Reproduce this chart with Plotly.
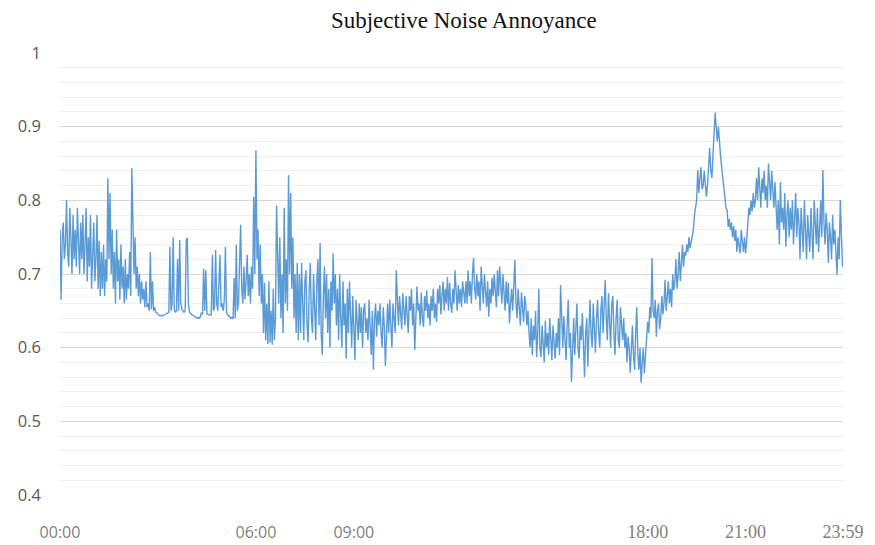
import plotly.graph_objects as go

# Sampling step of the recorded series (minutes between samples)
STEP_MIN = 2

# Subjective noise annoyance values (one every 2 minutes from 00:00)
annoyance = [
    # 00:00 - 02:00
    0.76, 0.665, 0.75, 0.77, 0.72, 0.74, 0.80, 0.73, 0.71, 0.79, 0.75, 0.70, 0.78, 0.72, 0.76, 0.71, 0.79, 0.73, 0.70, 0.77,
    0.72, 0.78, 0.70, 0.74, 0.79, 0.69, 0.75, 0.71, 0.78, 0.68, 0.73, 0.77, 0.69, 0.72, 0.78, 0.68, 0.745, 0.67, 0.73, 0.68,
    0.74, 0.67, 0.72, 0.69, 0.83, 0.72, 0.81, 0.70, 0.76, 0.68, 0.73, 0.66, 0.76, 0.69, 0.72, 0.665, 0.74, 0.68, 0.71, 0.66,
    # 02:00 - 04:00
    0.72, 0.665, 0.70, 0.68, 0.73, 0.67, 0.844, 0.78, 0.70, 0.75, 0.68, 0.71, 0.67, 0.70, 0.66, 0.69, 0.665, 0.68, 0.655, 0.69,
    0.655, 0.66, 0.65, 0.73, 0.652, 0.69, 0.65, 0.655, 0.648, 0.647, 0.645, 0.644, 0.643, 0.644, 0.643, 0.644, 0.645, 0.645, 0.646, 0.647,
    0.648, 0.737, 0.65, 0.66, 0.75, 0.652, 0.648, 0.65, 0.72, 0.65, 0.746, 0.66, 0.652, 0.65, 0.648, 0.65, 0.746, 0.749, 0.66, 0.648,
    # 04:00 - 06:00
    0.646, 0.645, 0.644, 0.643, 0.642, 0.641, 0.64, 0.641, 0.64, 0.642, 0.648, 0.645, 0.707, 0.65, 0.705, 0.646, 0.645, 0.645, 0.644, 0.645,
    0.726, 0.65, 0.655, 0.733, 0.66, 0.65, 0.68, 0.726, 0.655, 0.66, 0.65, 0.665, 0.737, 0.648, 0.645, 0.643, 0.642, 0.64, 0.641, 0.639,
    0.695, 0.64, 0.74, 0.65, 0.66, 0.70, 0.767, 0.68, 0.66, 0.71, 0.665, 0.69, 0.726, 0.67, 0.70, 0.66, 0.71, 0.68, 0.805, 0.70,
    # 06:00 - 08:00
    0.868, 0.72, 0.76, 0.67, 0.74, 0.66, 0.70, 0.62, 0.688, 0.61, 0.66, 0.605, 0.69, 0.607, 0.65, 0.604, 0.68, 0.61, 0.64, 0.793,
    0.70, 0.66, 0.75, 0.64, 0.70, 0.62, 0.79, 0.66, 0.72, 0.65, 0.834, 0.70, 0.81, 0.68, 0.75, 0.64, 0.70, 0.62, 0.715, 0.61,
    0.70, 0.62, 0.715, 0.65, 0.61, 0.69, 0.705, 0.63, 0.607, 0.68, 0.715, 0.64, 0.62, 0.70, 0.66, 0.61, 0.69, 0.72, 0.63, 0.742,
    # 08:00 - 10:00
    0.62, 0.59, 0.67, 0.71, 0.64, 0.70, 0.62, 0.68, 0.60, 0.69, 0.65, 0.728, 0.66, 0.70, 0.63, 0.68, 0.61, 0.70, 0.64, 0.60,
    0.69, 0.63, 0.66, 0.585, 0.68, 0.62, 0.69, 0.64, 0.60, 0.67, 0.62, 0.583, 0.665, 0.63, 0.61, 0.66, 0.62, 0.655, 0.60, 0.65,
    0.66, 0.62, 0.64, 0.61, 0.665, 0.63, 0.59, 0.65, 0.57, 0.64, 0.66, 0.615, 0.65, 0.63, 0.66, 0.62, 0.60, 0.655, 0.63, 0.575,
    # 10:00 - 12:00
    0.64, 0.66, 0.62, 0.665, 0.63, 0.60, 0.66, 0.64, 0.62, 0.705, 0.65, 0.63, 0.67, 0.64, 0.625, 0.674, 0.65, 0.63, 0.67, 0.64,
    0.62, 0.67, 0.65, 0.68, 0.63, 0.66, 0.597, 0.64, 0.683, 0.65, 0.66, 0.63, 0.675, 0.64, 0.628, 0.67, 0.65, 0.678, 0.64, 0.66,
    0.63, 0.67, 0.65, 0.68, 0.64, 0.66, 0.635, 0.68, 0.66, 0.685, 0.645, 0.67, 0.69, 0.65, 0.68, 0.66, 0.696, 0.65, 0.688, 0.66,
    # 12:00 - 14:00
    0.647, 0.68, 0.66, 0.705, 0.67, 0.65, 0.685, 0.66, 0.68, 0.655, 0.69, 0.67, 0.66, 0.69, 0.66, 0.705, 0.67, 0.69, 0.66, 0.70,
    0.722, 0.68, 0.665, 0.70, 0.67, 0.69, 0.65, 0.71, 0.68, 0.66, 0.70, 0.67, 0.655, 0.69, 0.642, 0.68, 0.66, 0.695, 0.67, 0.70,
    0.68, 0.655, 0.705, 0.67, 0.71, 0.68, 0.66, 0.70, 0.67, 0.65, 0.69, 0.66, 0.688, 0.633, 0.66, 0.68, 0.65, 0.70, 0.719, 0.66,
    # 14:00 - 16:00
    0.64, 0.68, 0.66, 0.63, 0.675, 0.65, 0.635, 0.67, 0.66, 0.63, 0.65, 0.62, 0.60, 0.64, 0.59, 0.63, 0.61, 0.65, 0.587, 0.62,
    0.68, 0.60, 0.587, 0.63, 0.61, 0.58, 0.637, 0.60, 0.62, 0.59, 0.64, 0.60, 0.583, 0.63, 0.61, 0.585, 0.62, 0.60, 0.64, 0.59,
    0.685, 0.62, 0.60, 0.643, 0.61, 0.583, 0.63, 0.665, 0.60, 0.62, 0.553, 0.60, 0.64, 0.59, 0.62, 0.66, 0.60, 0.585, 0.63, 0.61,
    # 16:00 - 18:00
    0.647, 0.60, 0.56, 0.62, 0.64, 0.574, 0.61, 0.665, 0.62, 0.60, 0.66, 0.63, 0.593, 0.64, 0.665, 0.62, 0.60, 0.65, 0.67, 0.62,
    0.66, 0.692, 0.64, 0.61, 0.674, 0.63, 0.60, 0.66, 0.67, 0.62, 0.59, 0.64, 0.665, 0.61, 0.60, 0.655, 0.63, 0.61, 0.64, 0.60,
    0.62, 0.58, 0.615, 0.60, 0.566, 0.61, 0.63, 0.59, 0.57, 0.62, 0.655, 0.59, 0.57, 0.60, 0.552, 0.58, 0.60, 0.565, 0.59, 0.62,
    # 18:00 - 20:00
    0.635, 0.62, 0.655, 0.64, 0.722, 0.65, 0.64, 0.665, 0.615, 0.65, 0.66, 0.625, 0.64, 0.67, 0.645, 0.66, 0.692, 0.65, 0.67, 0.69,
    0.66, 0.68, 0.655, 0.70, 0.678, 0.69, 0.72, 0.68, 0.70, 0.73, 0.69, 0.72, 0.74, 0.71, 0.73, 0.725, 0.74, 0.73, 0.75, 0.735,
    0.745, 0.75, 0.76, 0.78, 0.79, 0.80, 0.841, 0.81, 0.83, 0.845, 0.815, 0.82, 0.84, 0.825, 0.805, 0.82, 0.85, 0.871, 0.84, 0.83,
    # 20:00 - 22:00
    0.86, 0.89, 0.919, 0.90, 0.88, 0.90, 0.87, 0.86, 0.845, 0.83, 0.81, 0.80, 0.79, 0.787, 0.764, 0.775, 0.76, 0.77, 0.75, 0.765,
    0.745, 0.76, 0.73, 0.75, 0.74, 0.728, 0.76, 0.74, 0.73, 0.75, 0.728, 0.745, 0.77, 0.79, 0.78, 0.80, 0.785, 0.81, 0.79, 0.80,
    0.83, 0.80, 0.845, 0.81, 0.79, 0.83, 0.81, 0.84, 0.80, 0.82, 0.79, 0.85, 0.82, 0.80, 0.84, 0.81, 0.79, 0.825, 0.80, 0.76,
    # 22:00 - 24:00
    0.80, 0.74, 0.825, 0.77, 0.79, 0.76, 0.81, 0.737, 0.78, 0.80, 0.75, 0.79, 0.76, 0.80, 0.74, 0.78, 0.81, 0.75, 0.79, 0.77,
    0.72, 0.79, 0.76, 0.73, 0.80, 0.75, 0.72, 0.78, 0.76, 0.73, 0.79, 0.75, 0.72, 0.80, 0.77, 0.74, 0.79, 0.73, 0.76, 0.80,
    0.75, 0.841, 0.77, 0.74, 0.783, 0.76, 0.715, 0.77, 0.75, 0.72, 0.78, 0.74, 0.76, 0.72, 0.699, 0.75, 0.72, 0.80, 0.74, 0.71,
]

# Minute-of-day category for each sample
minutes = [STEP_MIN * i for i in range(len(annoyance))]

# x-axis tick positions (minute of day) and their labels
x_tick_minutes = [0, 360, 540, 1080, 1260, 1439]
x_tick_labels = ["00:00", "06:00", "09:00", "18:00", "21:00", "23:59"]
x_tick_serif = [False, False, False, True, True, True]

y_tick_values = [0.4, 0.5, 0.6, 0.7, 0.8, 0.9, 1.0]
y_tick_labels = ["0.4", "0.5", "0.6", "0.7", "0.8", "0.9", "1"]

SERIF = "Liberation Serif, Times New Roman, serif"
SANS = "Open Sans, Noto Sans, sans-serif"

x_tick_text = [
    f'<span style="font-family:Liberation Serif; font-size:18px">{t}</span>' if s else t
    for t, s in zip(x_tick_labels, x_tick_serif)
]

fig = go.Figure()
fig.add_trace(go.Scatter(
    x=minutes,
    y=annoyance,
    mode="lines",
    line=dict(color="#5b9bd5", width=1.4),
    showlegend=False,
    hoverinfo="skip",
))

fig.update_layout(
    width=875,
    height=545,
    paper_bgcolor="white",
    plot_bgcolor="white",
    margin=dict(l=60, r=32, t=53, b=50),
    title=dict(
        text="Subjective Noise Annoyance",
        font=dict(family=SERIF, size=23, color="#111111"),
        x=0.53,
        xanchor="center",
        y=0.963,
        yanchor="middle",
    ),
    xaxis=dict(
        range=[0, 1439],
        automargin=False,
        showgrid=False,
        zeroline=False,
        showline=False,
        tickmode="array",
        tickvals=x_tick_minutes,
        ticktext=x_tick_text,
        tickfont=dict(family=SANS, size=16, color="#7f7f7f"),
        ticklabelstandoff=26,
    ),
    yaxis=dict(
        range=[0.4, 1.0],
        automargin=False,
        showgrid=True,
        gridcolor="#d9d9d9",
        gridwidth=1,
        zeroline=False,
        showline=False,
        tickmode="array",
        tickvals=y_tick_values,
        ticktext=y_tick_labels,
        tickfont=dict(family=SANS, size=16.5, color="#595959"),
        ticklabelstandoff=18,
        minor=dict(
            tickmode="linear",
            tick0=0.4,
            dtick=0.02,
            showgrid=True,
            gridcolor="#efefef",
            gridwidth=1,
        ),
    ),
)

fig.write_html(
    "out.html",
    config={"displayModeBar": False},
    post_script="document.body.style.margin='0';",
)
